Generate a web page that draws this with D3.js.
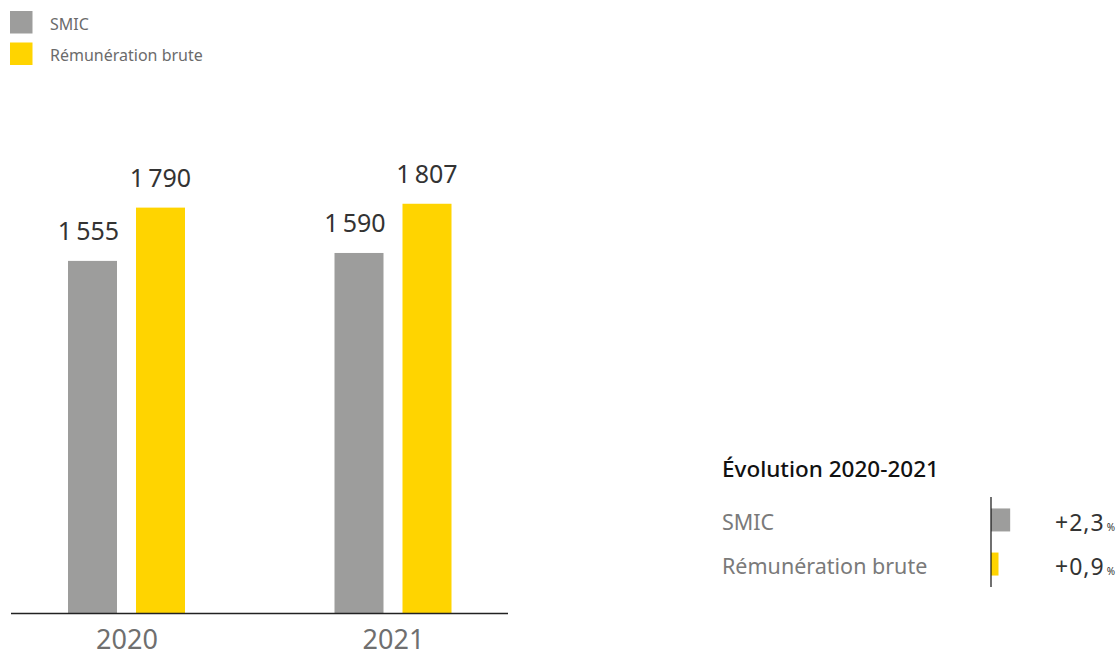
<!DOCTYPE html>
<html><head><meta charset="utf-8">
<script src="https://cdn.jsdelivr.net/npm/d3@7"></script>
<style>
body{margin:0;background:#fff;}
svg{display:block;font-family:"Noto Sans",sans-serif;}
</style></head>
<body>
<svg id="c" width="1120" height="657"></svg>
<script>
const years = ["2020", "2021"];
const seriesNames = ["SMIC", "Rémunération brute"];
const smicValues = [1555, 1590];
const remunerationValues = [1790, 1807];
const evolutionLabels = ["SMIC", "Rémunération brute"];
const evolutionValues = [2.3, 0.9];
const evolutionText = ["+2,3", "+0,9"];
const colors = ["#9d9d9c", "#ffd400"];

const svg = d3.select("#c");
const fmt = v => { const s = String(v); return s.length > 3 ? s.slice(0, s.length-3) + "\u2009" + s.slice(-3) : s; };

// legend
const leg = svg.append("g");
seriesNames.forEach((n,i)=>{
  leg.append("rect").attr("x",10).attr("y",11+i*31.5).attr("width",22.5).attr("height",22.5).attr("fill",colors[i]);
  leg.append("text").attr("x",50).attr("y",29.5+i*31).attr("font-size",16).attr("fill","#6b6b6b").text(n);
});

// main chart
const x0 = d3.scalePoint().domain(years).range([126.5, 393]);
const x1 = d3.scaleBand().domain(seriesNames).range([-58.5, 58.5]).paddingInner(0.2794);
const y = d3.scaleLinear().domain([0, 2000]).range([613.5, 160]);
const data = years.map((yr,i)=>({year:yr, vals:[smicValues[i], remunerationValues[i]]}));

const g = svg.append("g");
data.forEach(d=>{
  d.vals.forEach((v,j)=>{
    const bx = x0(d.year) + x1(seriesNames[j]);
    g.append("rect").attr("x",bx).attr("y",y(v)).attr("width",x1.bandwidth()).attr("height",y(0)-y(v)).attr("fill",colors[j]);
    g.append("text").attr("x",bx + x1.bandwidth()/2 + (j===0?-4:0)).attr("y",y(v)-21)
      .attr("text-anchor","middle").attr("font-size",25).attr("fill","#333").text(fmt(v));
  });
});
g.append("line").attr("x1",11).attr("x2",508).attr("y1",y(0)).attr("y2",y(0)).attr("stroke","#222").attr("stroke-width",1.5);
const xAxis = d3.axisBottom(x0).tickSize(0).tickPadding(16);
const ax = g.append("g").attr("transform",`translate(0,${y(0)})`).call(xAxis);
ax.select(".domain").remove();
ax.selectAll("text").attr("font-size",27).attr("fill","#6f6f6f").attr("font-family","Noto Sans").attr("dy","0.71em");

// evolution panel
const ev = svg.append("g");
ev.append("text").attr("x",722).attr("y",477).attr("font-size",22.5).attr("font-weight",500).attr("fill","#111").text("Évolution 2020-2021");
const ex = d3.scaleLinear().domain([0, 3]).range([991, 1016]);
const ey = d3.scaleBand().domain(evolutionLabels).range([499, 585]).paddingInner(0.05);
evolutionLabels.forEach((l,i)=>{
  const cy = ey(l) + ey.bandwidth()/2;
  ev.append("text").attr("x",722).attr("y",cy+10).attr("font-size",21.5).attr("fill","#7a7a7a").text(l);
  ev.append("rect").attr("x",ex(0)).attr("y",cy-11.5).attr("width",ex(evolutionValues[i])-ex(0)).attr("height",23).attr("fill",colors[i]);
  const t = ev.append("text").attr("x",1055).attr("y",cy+11).attr("font-size",23).attr("fill","#333").attr("letter-spacing",1);
  t.append("tspan").text(evolutionText[i]);
  t.append("tspan").attr("font-size",10).attr("dx",2).text("%");
});
ev.append("line").attr("x1",991).attr("x2",991).attr("y1",497).attr("y2",587).attr("stroke","#111").attr("stroke-width",1.2);
</script>
</body></html>
